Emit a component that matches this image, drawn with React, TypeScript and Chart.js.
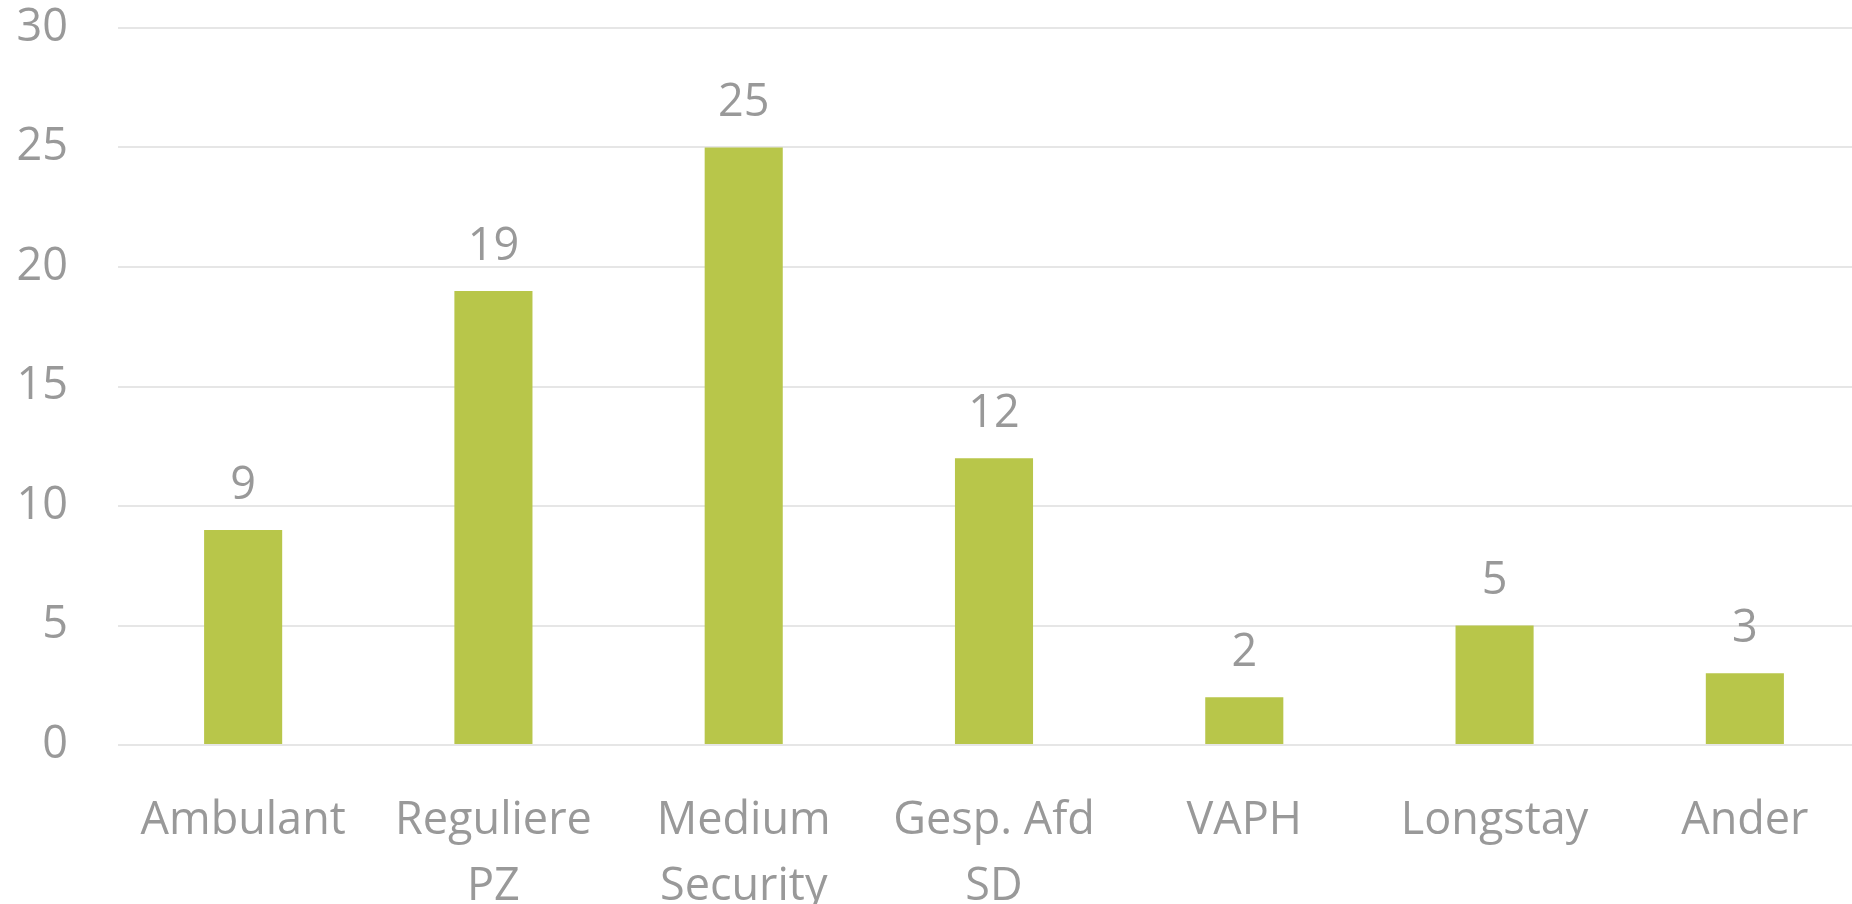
import React, { useEffect, useRef } from "react";
import { Chart, registerables } from "chart.js";

Chart.register(...registerables);

const categories: (string | string[])[] = [
  "Ambulant",
  ["Reguliere", "PZ"],
  ["Medium", "Security"],
  ["Gesp. Afd", "SD"],
  "VAPH",
  "Longstay",
  "Ander",
];
const values: number[] = [9, 19, 25, 12, 2, 5, 3];
const yTicks: number[] = [0, 5, 10, 15, 20, 25, 30];

const TEXT = "#999999";
const FONT = "'Open Sans', 'Noto Sans', sans-serif";

const valueLabels = {
  id: "valueLabels",
  afterDatasetsDraw(chart: any) {
    const ctx = chart.ctx;
    const meta = chart.getDatasetMeta(0);
    ctx.save();
    ctx.fillStyle = TEXT;
    ctx.font = `45px ${FONT}`;
    ctx.textAlign = "center";
    ctx.textBaseline = "middle";
    meta.data.forEach((el: any, i: number) => {
      ctx.fillText(String(values[i]), el.x, el.y - 44);
    });
    ctx.restore();
  },
};

export default function App() {
  const ref = useRef<HTMLCanvasElement>(null);
  useEffect(() => {
    document.body.style.margin = "0";
    const chart = new Chart(ref.current!, {
      type: "bar",
      data: {
        labels: categories as any,
        datasets: [
          {
            data: values,
            backgroundColor: "#B8C64A",
            barPercentage: 0.312,
            categoryPercentage: 1,
          },
        ],
      },
      options: {
        animation: false,
        responsive: false,
        maintainAspectRatio: false,
        layout: { padding: { top: 28, right: 0, left: 14, bottom: 0 } },
        plugins: { legend: { display: false }, tooltip: { enabled: false } },
        scales: {
          x: {
            grid: { display: false },
            border: { display: false },
            ticks: {
              color: TEXT,
              font: { family: FONT, size: 45, lineHeight: 1.47 },
              padding: 35,
              maxRotation: 0,
              autoSkip: false,
            },
            afterFit: (s: any) => {
              s.height = 159;
              s.paddingLeft = 0;
              s.paddingRight = 0;
            },
          },
          y: {
            min: 0,
            max: 30,
            afterBuildTicks: (s: any) => {
              s.ticks = yTicks.map((v) => ({ value: v }));
            },
            grid: { color: "#E6E6E6", lineWidth: 2, drawTicks: false },
            border: { display: false },
            ticks: {
              color: TEXT,
              font: { family: FONT, size: 45 },
              padding: 50,
            },
            afterFit: (s: any) => {
              s.width = 104;
              s.paddingTop = 0;
              s.paddingBottom = 0;
            },
          },
        },
      },
      plugins: [valueLabels],
    });
    return () => chart.destroy();
  }, []);
  return (
    <div style={{ position: "fixed", left: 0, top: 0, width: 1852, height: 904, overflow: "hidden" }}>
      <canvas ref={ref} width={1870} height={904} style={{ display: "block" }} />
    </div>
  );
}
